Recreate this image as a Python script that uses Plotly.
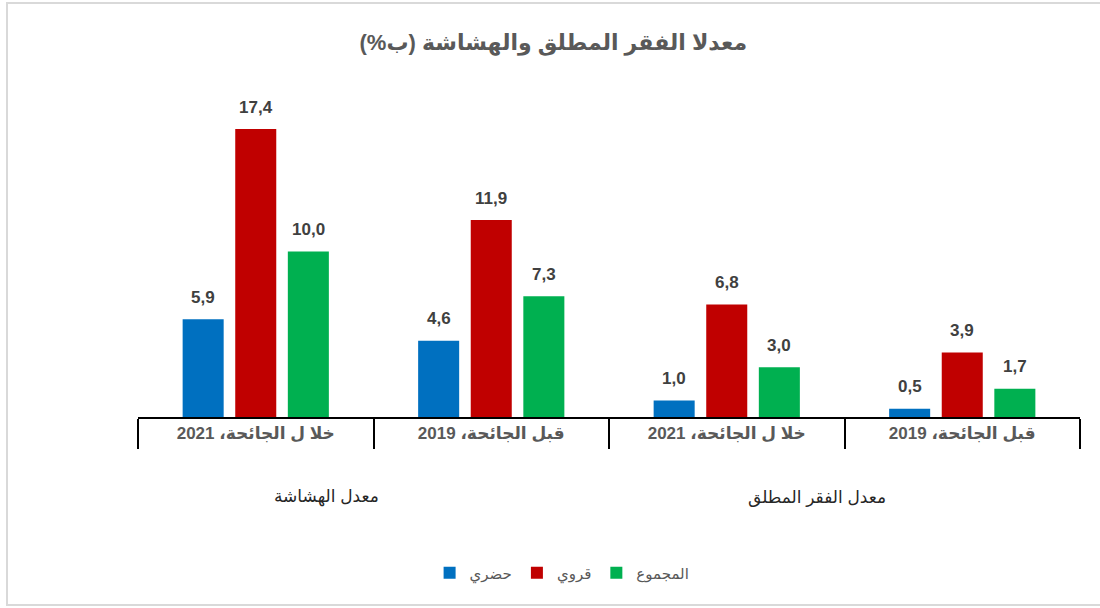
import plotly.graph_objects as go

# ---- data ----
category_keys = ["v2021", "v2019", "p2021", "p2019"]
category_labels = ["خلا ل الجائحة، 2021", "قبل الجائحة، 2019", "خلا ل الجائحة، 2021", "قبل الجائحة، 2019"]
group_labels = ["معدل الهشاشة", "معدل الفقر المطلق"]
series_names = ["حضري", "قروي", "المجموع"]
urban = [5.9, 4.6, 1.0, 0.5]
rural = [17.4, 11.9, 6.8, 3.9]
total = [10.0, 7.3, 3.0, 1.7]
title_text = "معدلا الفقر المطلق والهشاشة (ب%)\u200f"

series_values = [urban, rural, total]
colors = ["#0070C0", "#C00000", "#00B050"]

FONT = "Liberation Sans, Arial, DejaVu Sans, sans-serif"
W, H = 1100, 608
ML, MR, MT, MB = 138, 20, 86, 191
BARGAP = 0.33
BARGROUPGAP = 0.22

fig = go.Figure()
for name, vals, col in zip(series_names, series_values, colors):
    fig.add_trace(go.Bar(
        x=category_keys, y=vals, name=name,
        marker=dict(color=col, line=dict(width=0)),
        hoverinfo="x+y+name",
    ))

# data labels positioned through the axes, offset per group slot
plot_w = W - ML - MR
cat_px = plot_w / len(category_keys)
slot_px = cat_px * (1 - BARGAP) / len(series_values)
annotations = []
for i, vals in enumerate(series_values):
    for k, v in zip(category_keys, vals):
        annotations.append(dict(
            x=k, y=v, xref="x", yref="y",
            text=f"{v:.1f}".replace(".", ","),
            showarrow=False, xshift=(i - 1) * slot_px, yshift=22,
            yanchor="middle",
            font=dict(family=FONT, size=17, color="#404040", weight="bold"),
        ))

# group labels
for lab, xp in zip(group_labels, [0.2006, 0.7208]):
    annotations.append(dict(
        x=xp, y=-0.242, xref="paper", yref="paper", text=lab,
        showarrow=False, xanchor="center", yanchor="middle",
        font=dict(family=FONT, size=17, color="#262626"),
    ))

fig.update_layout(
    width=W, height=H,
    margin=dict(l=ML, r=MR, t=MT, b=MB, pad=0),
    paper_bgcolor="white", plot_bgcolor="white",
    separators=", ",
    barmode="group", bargap=BARGAP, bargroupgap=BARGROUPGAP,
    title=dict(
        text=title_text, x=0.503, xref="container", xanchor="center",
        y=1 - 42 / H, yref="container", yanchor="middle",
        font=dict(family=FONT, size=22, color="#595959", weight="bold"),
    ),
    xaxis=dict(
        type="category", categoryorder="array", categoryarray=category_keys,
        range=[-0.5, 3.5],
        tickvals=category_keys, ticktext=category_labels,
        tickfont=dict(family=FONT, size=17, color="#595959", weight="bold"),
        ticks="outside", tickson="boundaries", ticklen=30, tickwidth=1.5,
        tickcolor="#000000",
        ticklabelstandoff=0,
        showline=True, linecolor="#000000", linewidth=2,
        showgrid=False, zeroline=False, fixedrange=True,
    ),
    yaxis=dict(
        range=[0, 20], visible=False, showgrid=False, zeroline=False,
        fixedrange=True,
    ),
    legend=dict(
        orientation="h", xref="container", yref="container",
        x=0.511, xanchor="center", y=1 - 573 / H, yanchor="middle",
        font=dict(family=FONT, size=15, color="#595959"),
        traceorder="normal", itemwidth=30,
    ),
    annotations=annotations,
    shapes=[dict(
        type="rect", xref="paper", yref="paper",
        x0=(7 - ML) / plot_w, x1=(1102 - ML) / plot_w,
        y0=(417 - 605) / (H - MT - MB), y1=(417 - 3) / (H - MT - MB),
        line=dict(color="#D9D9D9", width=2), layer="below",
    )],
)

fig.write_html(
    "out.html",
    config={"displayModeBar": False},
    post_script="document.body.style.margin='0';document.body.style.overflow='hidden';",
)
